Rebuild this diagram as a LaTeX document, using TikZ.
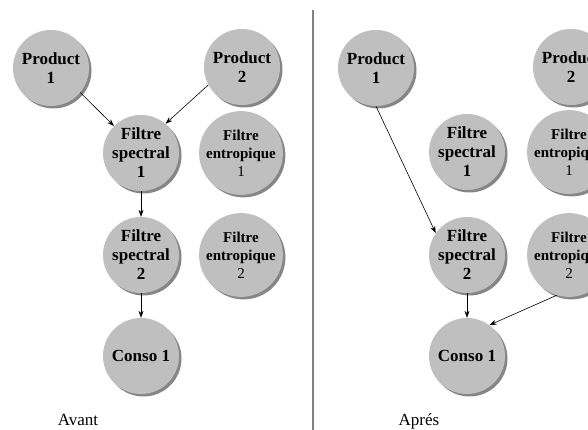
\documentclass[tikz,border=0pt]{standalone}
\usepackage{fontspec}
\setmainfont{Liberation Serif}
\usepackage{tikz}
\usetikzlibrary{arrows.meta,shadows}

\begin{document}
\begin{tikzpicture}[x=1pt,y=1pt,
		every node/.style={font=\fontsize{17}{19}\selectfont},
		ball/.style={circle,fill=gray!50,minimum size=76pt,inner sep=0pt,align=center,
				drop shadow={shadow xshift=2.5pt,shadow yshift=-2.5pt,fill=gray!95,opacity=1}},
		entr/.style={ball,font=\fontsize{15}{18}\selectfont},
		flow/.style={-{Stealth[length=7pt,width=5pt]},line width=0.6pt,black}]

	\useasboundingbox (0,0) rectangle (588,430);
	\clip (0,0) rectangle (588,430);

	% avant
	\node[ball] (p1l) at (51,362) {\textbf{Product}\\\textbf{1}};
	\node[ball] (p2l) at (242,363) {\textbf{Product}\\\textbf{2}};
	\node[ball] (fs1l) at (141,277) {\textbf{Filtre}\\\textbf{spectral}\\\textbf{1}};
	\node[entr] (fe1l) at (241,277) {\textbf{Filtre}\\\textbf{entropique}\\1};
	\node[ball] (fs2l) at (141,175) {\textbf{Filtre}\\\textbf{spectral}\\\textbf{2}};
	\node[entr] (fe2l) at (241,175) {\textbf{Filtre}\\\textbf{entropique}\\2};
	\node[ball] (c1l) at (141,74) {\textbf{Conso 1}};
	\node[font=\fontsize{17}{20}\selectfont] (avant) at (78,10) {Avant};

	\draw[flow] (p1l.-40) -- (fs1l.135);
	\draw[flow] (p2l.208) -- (fs1l.50);
	\draw[flow] (fs1l.south) -- (fs2l.north);
	\draw[flow] (fs2l.south) -- (c1l.north);

	% separation
	\draw[gray,line width=2.5pt] (313,420) -- (313,0);

	% apres
	\node[ball] (p1r) at (376,362) {\textbf{Product}\\\textbf{1}};
	\node[ball] (p2r) at (571,363) {\textbf{Product}\\\textbf{2}};
	\node[ball] (fs1r) at (467,278) {\textbf{Filtre}\\\textbf{spectral}\\\textbf{1}};
	\node[entr] (fe1r) at (569,278) {\textbf{Filtre}\\\textbf{entropique}\\1};
	\node[ball] (fs2r) at (467,175) {\textbf{Filtre}\\\textbf{spectral}\\\textbf{2}};
	\node[entr] (fe2r) at (569,175) {\textbf{Filtre}\\\textbf{entropique}\\2};
	\node[ball] (c1r) at (467,74) {\textbf{Conso 1}};
	\node[font=\fontsize{17}{20}\selectfont] (apres) at (419,9) {Aprés};

	\draw[flow] (p1r.south) -- (fs2r.145);
	\draw[flow] (fs2r.south) -- (c1r.north);
	\draw[flow] (fe2r.253) -- (c1r.54);
\end{tikzpicture}
\end{document}
